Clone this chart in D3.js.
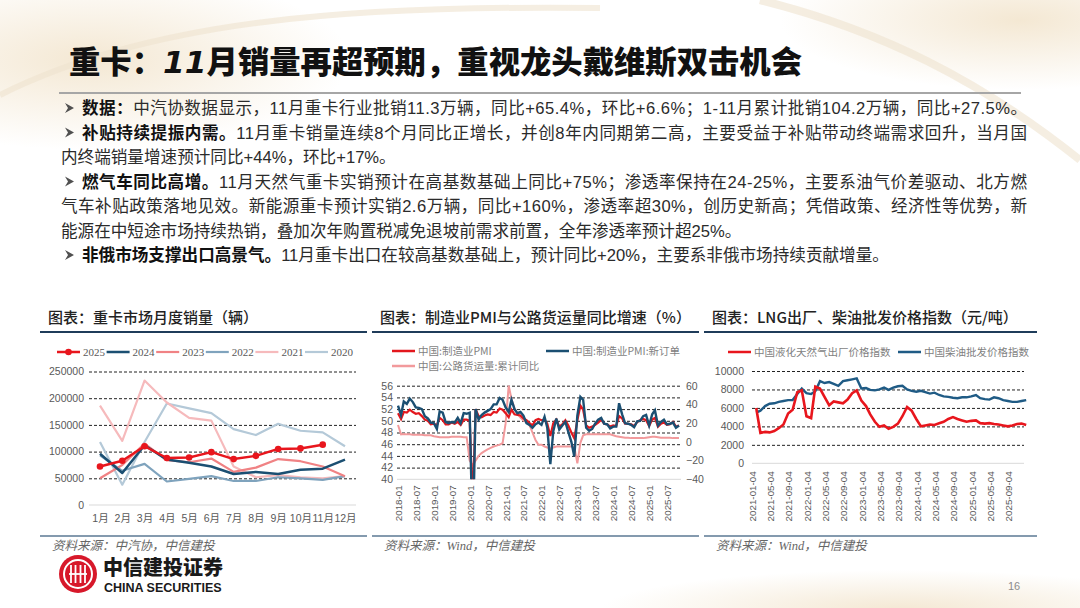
<!DOCTYPE html>
<html>
<head>
<meta charset="utf-8">
<script src="https://cdn.jsdelivr.net/npm/d3@7"></script>
<style>
  body { margin: 0; background: #fff; }
  svg { display: block; font-family: "Liberation Sans", "Noto Sans CJK SC", sans-serif; }
</style>
</head>
<body>
<svg id="slide" width="1080" height="608"></svg>
<script>
// ---------- data ----------
const monthLabels = ["1月", "2月", "3月", "4月", "5月", "6月", "7月", "8月", "9月", "10月", "11月", "12月"];
const yearNames = ["2025", "2024", "2023", "2022", "2021", "2020"];
const sales2025 = [72000, 83000, 110000, 88000, 89000, 99000, 86000, 92000, 105000, 106000, 113000];
const sales2024 = [96000, 60000, 112000, 85000, 79000, 72000, 58000, 62000, 58000, 66000, 68000, 85000];
const sales2023 = [50000, 75000, 115000, 84000, 80000, 87000, 62000, 70000, 86000, 82000, 72000, 54000];
const sales2022 = [93000, 64000, 77000, 44000, 49000, 54000, 45000, 45000, 52000, 50000, 47000, 54000];
const sales2021 = [186000, 120000, 233000, 192000, 163000, 158000, 72000, 52000, 56000, 52000, 50000, 54000];
const sales2020 = [118000, 38000, 118000, 190000, 181000, 172000, 142000, 131000, 152000, 139000, 136000, 110000];
const salesTicks = [0, 50000, 100000, 150000, 200000, 250000];

// 2018-01 .. 2025-11, monthly
const pmiMfg = [
  51.3, 50.3, 51.5, 51.4, 51.9, 51.5, 51.2, 51.3, 50.8, 50.2, 50.0, 49.4,
  49.5, 49.2, 50.5, 50.1, 49.4, 49.4, 49.7, 49.5, 49.8, 49.3, 50.2, 50.2,
  50.0, 35.7, 52.0, 50.8, 50.6, 50.9, 51.1, 51.0, 51.5, 51.4, 52.1, 51.9,
  51.3, 50.6, 51.9, 51.1, 51.0, 50.9, 50.4, 50.1, 49.6, 49.2, 50.1, 50.3,
  50.1, 50.2, 49.5, 47.4, 49.6, 50.2, 49.0, 49.4, 50.1, 49.2, 48.0, 47.0,
  50.1, 52.6, 51.9, 49.2, 48.8, 49.0, 49.3, 49.7, 50.2, 49.5, 49.4, 49.0,
  49.2, 49.1, 50.8, 50.4, 49.5, 49.5, 49.4, 49.1, 49.8, 50.1, 50.3, 50.1,
  49.1, 50.2, 50.5, 49.0, 49.5, 49.7, 49.3, 49.4, 49.8, 49.0, 49.2
];
const pmiNewOrders = [
  52.6, 51.0, 53.3, 52.9, 53.8, 53.2, 52.3, 52.2, 52.0, 50.8, 50.4, 49.7,
  49.6, 48.6, 51.6, 51.4, 49.8, 49.6, 49.8, 49.7, 50.5, 49.6, 51.3, 51.2,
  51.4, 29.3, 52.0, 50.2, 51.0, 51.4, 51.7, 52.0, 52.8, 52.8, 53.9, 53.6,
  52.3, 51.5, 53.6, 52.0, 51.3, 51.5, 50.9, 49.6, 49.3, 48.8, 49.4, 49.7,
  49.3, 50.7, 48.8, 42.6, 48.2, 50.4, 48.5, 49.2, 49.8, 48.1, 46.4, 43.9,
  50.9, 54.1, 53.6, 48.8, 48.3, 48.6, 49.5, 50.2, 50.5, 49.5, 49.4, 48.7,
  49.0, 49.0, 53.0, 51.1, 49.6, 49.5, 49.3, 48.9, 49.9, 50.0, 50.8, 51.0,
  49.2, 51.1, 51.8, 49.2, 49.8, 50.2, 49.4, 49.5, 49.7, 48.8, 49.2
];
const freightYoY = [
  18, 8, 8.5, 8, 8, 7.5, 7.5, 7.5, 7.5, 7, 7, 7,
  6, 5.5, 5, 5, 5, 5, 5.5, 5.5, 5.5, 5.5, 5, 5,
  -20, -25, -20, -15, -12, -10, -8, -6.5, -5, -4, -3, -1.5,
  20, 60, 46, 36, 30, 26, 23, 21, 18, 10, 2, -3,
  -3, -5, -6, -7, -6, -5, -5, -5, -5, -5, -5, -5,
  -23, -1, 7, 8, 8, 8, 8, 8, 8, 8, 8, 8,
  7, 6, 5.5, 5, 4.5, 4.5, 4, 4, 4, 4, 4, 4.5,
  5, 5.5, 5.5, 5, 4.5, 4.5, 4.5, 4.5, 4, 4, 4
];
const pmiLeftTicks = [40, 42, 44, 46, 48, 50, 52, 54, 56];
const pmiRightTicks = [-40, -20, 0, 20, 40, 60];
const pmiTickLabels = ["2018-01", "2018-07", "2019-01", "2019-07", "2020-01", "2020-07", "2021-01", "2021-07",
  "2022-01", "2022-07", "2023-01", "2023-07", "2024-01", "2024-07", "2025-01", "2025-07"];

// 2021-01 .. 2025-12, monthly readings (元/吨)
const lngIndex = [
  6000, 3300, 3400, 3350, 3500, 3800, 4200, 5400, 5800, 7700, 7900, 5100,
  4900, 8300, 8100, 7200, 6300, 6700, 6600, 6500, 6900, 7600, 7900, 6800,
  6200, 5300, 4500, 3950, 4100, 3750, 3950, 4300, 5100, 6100, 5700, 4800,
  4000, 4100, 4200, 4150, 4330, 4500, 4800, 5000, 4800, 4650, 4500, 4600,
  4650, 4350, 4300, 4350, 4250, 4200, 4100, 4000, 4100, 4250, 4300, 4150
];
const dieselIndex = [
  5500, 5700, 6200, 6450, 6500, 6650, 6750, 6850, 6850, 7500, 8100, 7600,
  7500, 7800, 8900, 8700, 8800, 8600, 8400, 8900, 9000, 9100, 9200, 8100,
  8150, 7950, 7900, 8000, 8200, 7950, 8200, 8350, 8400, 8000, 7850, 7750,
  7850, 7700, 7550, 7650, 7400, 7250, 7200, 7100, 7050, 7150, 7150, 7250,
  7400, 7050, 6950, 6900, 7150, 7050, 6850, 6750, 6650, 6650, 6750, 6850
];
const priceTicks = [0, 2000, 4000, 6000, 8000, 10000];
const priceTickLabels = ["2021-01-04", "2021-05-04", "2021-09-04", "2022-01-04", "2022-05-04", "2022-09-04",
  "2023-01-04", "2023-05-04", "2023-09-04", "2024-01-04", "2024-05-04", "2024-09-04",
  "2025-01-04", "2025-05-04", "2025-09-04"];

// ---------- text ----------
const titleParts = ["重卡：", "11", "月销量再超预期，重视龙头戴维斯双击机会"];
const noteLines = [
  ["数据：", "中汽协数据显示，11月重卡行业批销11.3万辆，同比+65.4%，环比+6.6%；1-11月累计批销104.2万辆，同比+27.5%。"],
  ["补贴持续提振内需。", "11月重卡销量连续8个月同比正增长，并创8年内同期第二高，主要受益于补贴带动终端需求回升，当月国"],
  ["", "内终端销量增速预计同比+44%，环比+17%。"],
  ["燃气车同比高增。", "11月天然气重卡实销预计在高基数基础上同比+75%；渗透率保持在24-25%，主要系油气价差驱动、北方燃"],
  ["", "气车补贴政策落地见效。新能源重卡预计实销2.6万辆，同比+160%，渗透率超30%，创历史新高；凭借政策、经济性等优势，新"],
  ["", "能源在中短途市场持续热销，叠加次年购置税减免退坡前需求前置，全年渗透率预计超25%。"],
  ["非俄市场支撑出口高景气。", "11月重卡出口在较高基数基础上，预计同比+20%，主要系非俄市场持续贡献增量。"]
];
const justified = [0, 1, 3, 4];

const svg = d3.select("#slide");
const parseMonth = d3.timeParse("%Y-%m");
const parseDay = d3.timeParse("%Y-%m-%d");

// soft background decoration
const defs = svg.append("defs");
const glow = defs.append("radialGradient").attr("id", "glow");
glow.append("stop").attr("offset", "0%").attr("stop-color", "#f1e2c8").attr("stop-opacity", 0.8);
glow.append("stop").attr("offset", "100%").attr("stop-color", "#f1e2c8").attr("stop-opacity", 0);
svg.append("ellipse").attr("cx", 90).attr("cy", 60).attr("rx", 260).attr("ry", 90).attr("fill", "url(#glow)");
svg.append("ellipse").attr("cx", 1020).attr("cy", 20).attr("rx", 240).attr("ry", 70).attr("fill", "url(#glow)");
svg.append("ellipse").attr("cx", 900).attr("cy", 610).attr("rx", 300).attr("ry", 40).attr("fill", "url(#glow)");
svg.append("path").attr("d", "M0,95 C150,20 350,5 600,8").attr("fill", "none").attr("stroke", "#efe3cf").attr("stroke-width", 6).attr("opacity", 0.6);
svg.append("path").attr("d", "M760,0 C880,30 980,80 1080,160").attr("fill", "none").attr("stroke", "#efe3cf").attr("stroke-width", 8).attr("opacity", 0.6);

// slide title
const title = svg.append("text")
  .attr("x", 69).attr("y", 73)
  .attr("font-family", "Noto Sans CJK SC").attr("font-weight", 900)
  .attr("font-size", 31).attr("fill", "#111")
  .attr("textLength", 733).attr("lengthAdjust", "spacingAndGlyphs");
title.append("tspan").text(titleParts[0]);
title.append("tspan").attr("font-style", "italic").attr("font-family", "DejaVu Sans").text(titleParts[1]);
title.append("tspan").text(titleParts[2]);
svg.append("line").attr("x1", 59).attr("x2", 1021).attr("y1", 93).attr("y2", 93)
  .attr("stroke", "#a6a6a6").attr("stroke-width", 2);

// bullet notes
noteLines.forEach(function (d, i) {
  const y = 114 + i * 24.5;
  const hasHead = d[0] !== "";
  const x = hasHead ? 82 : 61;
  if (hasHead) {
    const ax = 65, ay = y - 6;
    svg.append("path")
      .attr("d", `M${ax},${ay - 5} L${ax + 9},${ay} L${ax},${ay + 5} L${ax + 3},${ay} Z`)
      .attr("fill", "#505050");
  }
  const t = svg.append("text").attr("x", x).attr("y", y).attr("font-size", 16.6).attr("fill", "#2b2b2b");
  if (justified.includes(i)) t.attr("textLength", 1027 - x).attr("lengthAdjust", "spacing");
  if (hasHead) t.append("tspan").attr("font-weight", 700).attr("fill", "#111").text(d[0]);
  t.append("tspan").text(d[1]);
});

// chart frames
function chartFrame(x0, x1, title, source) {
  svg.append("text").attr("x", x0 + 8).attr("y", 323)
    .attr("font-family", "Noto Sans CJK SC").attr("font-weight", 500)
    .attr("font-size", 15).attr("fill", "#222").text(title);
  svg.append("line").attr("x1", x0).attr("x2", x1).attr("y1", 332).attr("y2", 332)
    .attr("stroke", "#1f3c5a").attr("stroke-width", 2);
  svg.append("line").attr("x1", x0).attr("x2", x1).attr("y1", 536).attr("y2", 536)
    .attr("stroke", "#5b7893").attr("stroke-width", 1.5);
  svg.append("text").attr("x", x0 + 12).attr("y", 550)
    .attr("font-family", "Liberation Serif, Noto Sans CJK SC").attr("font-style", "italic")
    .attr("font-size", 12.5).attr("fill", "#666").text(source);
}
chartFrame(40, 367, "图表：重卡市场月度销量（辆）", "资料来源：中汽协，中信建投");
chartFrame(372, 699, "图表：制造业PMI与公路货运量同比增速（%）", "资料来源：Wind，中信建投");
chartFrame(704, 1037, "图表：LNG出厂、柴油批发价格指数（元/吨）", "资料来源：Wind，中信建投");

function styleAxis(g, dashed) {
  g.select(".domain").remove();
  g.selectAll(".tick line").attr("stroke", dashed ? "#222" : "none")
    .attr("stroke-dasharray", "3,2").attr("stroke-width", 1);
  g.selectAll(".tick text").attr("fill", "#595959").attr("font-size", 10.5)
    .attr("font-family", "Liberation Sans");
}

// ---------- chart 1: monthly heavy truck sales ----------
(function () {
  const left = 89, right = 356, base = 505, top = 371.5;
  const x = d3.scalePoint().domain(monthLabels).range([100, 345]);
  const y = d3.scaleLinear().domain([0, 250000]).range([base, top]);
  const colors = ["#e8161d", "#1b4f72", "#f08284", "#7fa3bd", "#f6babc", "#b4c9d8"];
  const widths = [2.5, 2.5, 2.2, 2.2, 2.2, 2.2];
  const series = [sales2025, sales2024, sales2023, sales2022, sales2021, sales2020];

  const gy = svg.append("g").attr("transform", `translate(${left},0)`)
    .call(d3.axisLeft(y).tickValues(salesTicks.filter(d => d > 0)).tickSize(-(right - left)).tickPadding(5).tickFormat(d3.format("d")));
  styleAxis(gy, true);
  svg.append("text").attr("x", 84).attr("y", base + 3.5).attr("text-anchor", "end")
    .attr("font-size", 10.5).attr("fill", "#595959").text("0");
  svg.append("line").attr("x1", left).attr("x2", right).attr("y1", base).attr("y2", base)
    .attr("stroke", "#d9d9d9").attr("stroke-width", 1);

  const gx = svg.append("g").attr("transform", `translate(0,${base})`)
    .call(d3.axisBottom(x).tickSize(0).tickPadding(10));
  gx.select(".domain").remove();
  gx.selectAll(".tick text").attr("fill", "#595959").attr("font-size", 10.5)
    .attr("font-family", "Liberation Sans, Noto Sans CJK SC");

  const line = d3.line().x((d, i) => x(monthLabels[i])).y(d => y(d));
  for (let k = series.length - 1; k >= 0; k--) {
    svg.append("path").datum(series[k]).attr("fill", "none")
      .attr("stroke", colors[k]).attr("stroke-width", widths[k])
      .attr("stroke-linejoin", "round").attr("d", line);
  }
  svg.selectAll(".dot25").data(sales2025).join("circle")
    .attr("cx", (d, i) => x(monthLabels[i])).attr("cy", d => y(d)).attr("r", 3.3)
    .attr("fill", colors[0]);

  // legend
  yearNames.forEach(function (name, k) {
    const lx = 57 + k * 49.6, ly = 352;
    svg.append("line").attr("x1", lx).attr("x2", lx + 23).attr("y1", ly).attr("y2", ly)
      .attr("stroke", colors[k]).attr("stroke-width", widths[k]);
    if (k === 0) svg.append("circle").attr("cx", lx + 11.5).attr("cy", ly).attr("r", 3.3).attr("fill", colors[0]);
    svg.append("text").attr("x", lx + 26).attr("y", ly + 3.8)
      .attr("font-family", "Liberation Serif").attr("font-size", 11).attr("fill", "#595959").text(name);
  });
})();

// ---------- chart 2: PMI & highway freight ----------
(function () {
  const left = 397, right = 681, base = 479.3, top = 385.7;
  const months = d3.timeMonth.range(parseMonth("2018-01"), d3.timeMonth.offset(parseMonth("2025-11"), 1));
  const x = d3.scaleTime().domain([parseMonth("2018-01"), parseMonth("2025-11")]).range([398, 679]);
  const yL = d3.scaleLinear().domain([40, 56]).range([base, top]);
  const yR = d3.scaleLinear().domain([-40, 60]).range([base, top]);

  const gy = svg.append("g").attr("transform", `translate(${left},0)`)
    .call(d3.axisLeft(yL).tickValues(pmiLeftTicks.filter(d => d > 40)).tickSize(-(right - left)).tickPadding(4));
  styleAxis(gy, true);
  svg.append("text").attr("x", 393).attr("y", base + 3.5).attr("text-anchor", "end")
    .attr("font-size", 10.5).attr("fill", "#595959").text("40");
  const gr = svg.append("g").attr("transform", `translate(${right},0)`)
    .call(d3.axisRight(yR).tickValues(pmiRightTicks).tickSize(0).tickPadding(5));
  styleAxis(gr, false);
  svg.append("line").attr("x1", left).attr("x2", right).attr("y1", base).attr("y2", base)
    .attr("stroke", "#d9d9d9");

  const gx = svg.append("g").attr("transform", `translate(0,${base})`)
    .call(d3.axisBottom(x).tickValues(pmiTickLabels.map(parseMonth)).tickSize(0).tickFormat(d3.timeFormat("%Y-%m")));
  gx.select(".domain").remove();
  gx.selectAll(".tick text").attr("fill", "#595959").attr("font-size", 9.8)
    .attr("font-family", "Liberation Sans")
    .attr("transform", "rotate(-90)").attr("text-anchor", "end")
    .attr("x", -6).attr("y", 0).attr("dy", "0.35em");

  svg.append("clipPath").attr("id", "clip2").append("rect")
    .attr("x", left).attr("y", top - 2).attr("width", right - left).attr("height", base - top + 2);
  const plot = svg.append("g").attr("clip-path", "url(#clip2)");
  const lineL = d3.line().x((d, i) => x(months[i])).y(d => yL(d));
  const lineR = d3.line().x((d, i) => x(months[i])).y(d => yR(d));
  plot.append("path").datum(freightYoY).attr("fill", "none").attr("stroke", "#f29a9c").attr("stroke-width", 2).attr("d", lineR);
  plot.append("path").datum(pmiMfg).attr("fill", "none").attr("stroke", "#e3171d").attr("stroke-width", 2.2).attr("d", lineL);
  plot.append("path").datum(pmiNewOrders).attr("fill", "none").attr("stroke", "#1b4f72").attr("stroke-width", 2.4).attr("d", lineL);

  const legend = [
    ["中国:制造业PMI", "#e3171d", 392, 351],
    ["中国:制造业PMI:新订单", "#1b4f72", 546, 351],
    ["中国:公路货运量:累计同比", "#f29a9c", 392, 366]
  ];
  legend.forEach(function (d) {
    svg.append("line").attr("x1", d[2]).attr("x2", d[2] + 23).attr("y1", d[3]).attr("y2", d[3])
      .attr("stroke", d[1]).attr("stroke-width", 2.5);
    svg.append("text").attr("x", d[2] + 26).attr("y", d[3] + 3.8)
      .attr("font-family", "Noto Sans CJK SC").attr("font-size", 10.5).attr("fill", "#7f7f7f").text(d[0]);
  });
})();

// ---------- chart 3: LNG & diesel price index ----------
(function () {
  const left = 752, right = 1024, base = 463.3, top = 371;
  const dates = d3.timeMonth.range(parseDay("2021-01-04"), parseDay("2026-01-04"));
  const x = d3.scaleTime().domain([parseDay("2021-01-04"), parseDay("2025-12-04")]).range([752, 1022]);
  const y = d3.scaleLinear().domain([0, 10000]).range([base, top]);

  const gy = svg.append("g").attr("transform", `translate(${left},0)`)
    .call(d3.axisLeft(y).tickValues(priceTicks.filter(d => d > 0)).tickSize(-(right - left)).tickPadding(8).tickFormat(d3.format("d")));
  styleAxis(gy, true);
  svg.append("text").attr("x", 744).attr("y", base + 3.5).attr("text-anchor", "end")
    .attr("font-size", 10.5).attr("fill", "#595959").text("0");
  svg.append("line").attr("x1", left).attr("x2", right).attr("y1", base).attr("y2", base)
    .attr("stroke", "#d9d9d9");

  const gx = svg.append("g").attr("transform", `translate(0,${base})`)
    .call(d3.axisBottom(x).tickValues(priceTickLabels.map(parseDay)).tickSize(0).tickFormat(d3.timeFormat("%Y-%m-%d")));
  gx.select(".domain").remove();
  gx.selectAll(".tick text").attr("fill", "#595959").attr("font-size", 9.8)
    .attr("font-family", "Liberation Sans")
    .attr("transform", "rotate(-90)").attr("text-anchor", "end")
    .attr("x", -8).attr("y", 0).attr("dy", "0.35em");

  const line = d3.line().x((d, i) => x(dates[i])).y(d => y(d));
  svg.append("path").datum(dieselIndex).attr("fill", "none").attr("stroke", "#1f5b85").attr("stroke-width", 2.4).attr("d", line);
  svg.append("path").datum(lngIndex).attr("fill", "none").attr("stroke", "#e8161d").attr("stroke-width", 2.6).attr("d", line);

  const legend = [
    ["中国液化天然气出厂价格指数", "#e8161d", 728],
    ["中国柴油批发价格指数", "#1f5b85", 898]
  ];
  legend.forEach(function (d) {
    svg.append("line").attr("x1", d[2]).attr("x2", d[2] + 23).attr("y1", 352).attr("y2", 352)
      .attr("stroke", d[1]).attr("stroke-width", 2.5);
    svg.append("text").attr("x", d[2] + 26).attr("y", 355.8)
      .attr("font-family", "Noto Sans CJK SC").attr("font-size", 10.5).attr("fill", "#7f7f7f").text(d[0]);
  });
})();

// ---------- footer ----------
const logo = svg.append("g").attr("transform", "translate(78,574)");
logo.append("circle").attr("r", 19).attr("fill", "#d7182a");
logo.append("circle").attr("r", 14).attr("fill", "none").attr("stroke", "#fff").attr("stroke-width", 2);
[-7, -2.5, 2.5, 7].forEach(function (dx) {
  logo.append("line").attr("x1", dx).attr("x2", dx).attr("y1", -9).attr("y2", 9)
    .attr("stroke", "#fff").attr("stroke-width", 1.8);
});
logo.append("line").attr("x1", -9).attr("x2", 9).attr("y1", 0).attr("y2", 0).attr("stroke", "#fff").attr("stroke-width", 1.8);
svg.append("text").attr("x", 103).attr("y", 575)
  .attr("font-family", "Noto Sans CJK SC").attr("font-weight", 900).attr("font-size", 20)
  .attr("fill", "#1a1a1a").text("中信建投证券");
svg.append("text").attr("x", 104).attr("y", 592)
  .attr("font-family", "Liberation Sans").attr("font-weight", 700).attr("font-size", 12.5)
  .attr("fill", "#1a1a1a").text("CHINA SECURITIES");
svg.append("text").attr("x", 1008).attr("y", 590)
  .attr("font-size", 11).attr("fill", "#8c8c8c").text("16");
</script>
</body>
</html>
